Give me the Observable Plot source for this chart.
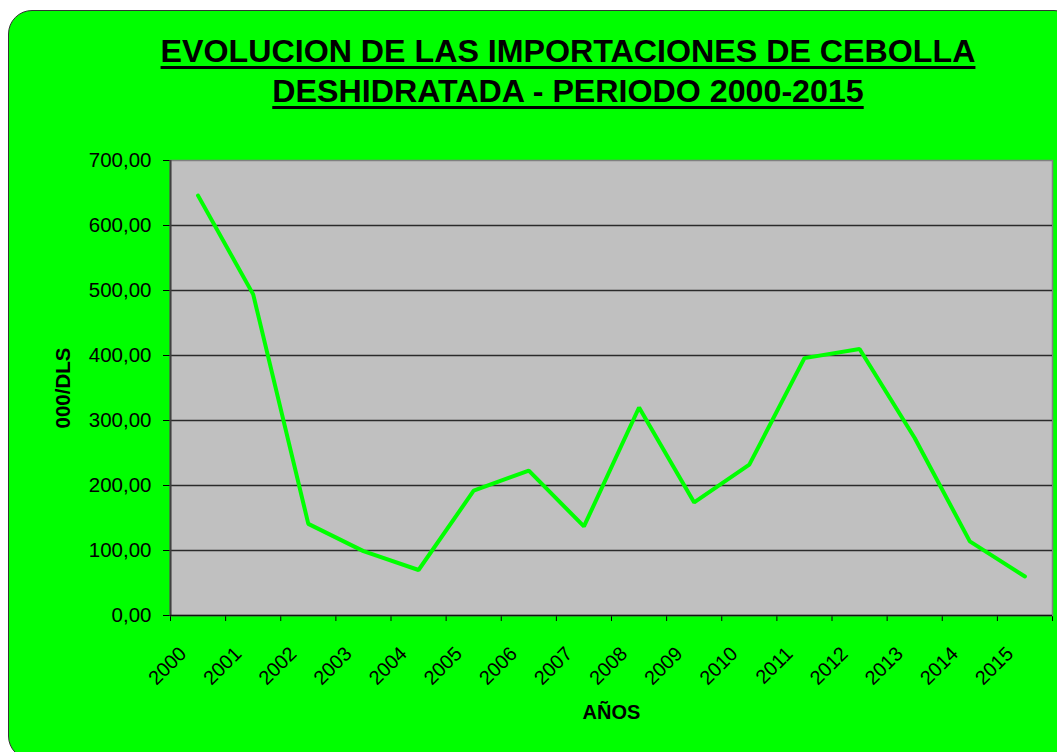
<!DOCTYPE html>
<html>
<head>
<meta charset="utf-8">
<script src="https://cdn.jsdelivr.net/npm/d3@7"></script>
<script src="https://cdn.jsdelivr.net/npm/@observablehq/plot@0.6"></script>
<style>
  html, body { margin: 0; padding: 0; background: #ffffff; width: 1057px; height: 752px; overflow: hidden; }
  #card { position: absolute; left: 8px; top: 10px; width: 1070px; height: 750px; background: #00ff00;
          border: 1.5px solid #333; border-radius: 24px; box-sizing: border-box; }
  #title { position: absolute; left: 0; top: 31px; width: 1136px; text-align: center;
           font-family: "Liberation Sans", Arial, sans-serif; font-weight: bold; font-size: 32.2px; line-height: 40px;
           color: #000; z-index: 2; }
  #title span { text-decoration: underline; text-decoration-thickness: 3px; text-underline-offset: 4px; }
  #chart { position: absolute; left: 0; top: 0; z-index: 1; }
</style>
</head>
<body>
<div id="card"></div>
<div id="title"><span>EVOLUCION DE LAS IMPORTACIONES DE CEBOLLA</span><br><span>DESHIDRATADA - PERIODO 2000-2015</span></div>
<div id="chart"></div>
<script>
const years = ["2000","2001","2002","2003","2004","2005","2006","2007","2008","2009","2010","2011","2012","2013","2014","2015"];
const values = [646, 494, 141, 99, 70, 192, 223, 137, 320, 174, 232, 396, 410, 273, 114, 60];
const yTicks = [0, 100, 200, 300, 400, 500, 600, 700];
const yTitle = "000/DLS";
const xTitle = "AÑOS";

const fmt = d => d.toFixed(2).replace(".", ",");
const bounds = d3.range(0, years.length + 1);
const rows = years.map((y, i) => ({year: y, idx: i + 0.5, value: values[i]}));

const chart = Plot.plot({
  width: 1057,
  height: 752,
  marginLeft: 170,
  marginRight: 5,
  marginTop: 160,
  marginBottom: 137,
  style: {background: "transparent", fontFamily: "'Liberation Sans', Arial, sans-serif", fontSize: "20.5px", color: "#000", overflow: "visible"},
  x: {domain: [0, years.length], ticks: bounds, tickFormat: () => "", tickSize: 6, label: null},
  y: {domain: [0, 700], ticks: yTicks, tickFormat: fmt, tickSize: 7, tickPadding: 12, label: null},
  marks: [
    Plot.frame({fill: "#c0c0c0", stroke: "#808080", strokeWidth: 1.5}),
    Plot.ruleY(yTicks.slice(1, -1), {stroke: "#2a2a2a", strokeWidth: 1.4}),
    Plot.ruleX([0], {stroke: "#404040", strokeWidth: 2}),
    Plot.ruleY([0], {stroke: "#111", strokeWidth: 1.5}),
    Plot.line(rows, {x: "idx", y: "value", stroke: "#00ff00", strokeWidth: 4, strokeLinejoin: "miter"}),
    Plot.text(rows, {x: "idx", y: 0, text: "year", rotate: -45, textAnchor: "end", dx: -15, dy: 35, fontSize: 19.8}),
    Plot.text([yTitle], {frameAnchor: "left", textAnchor: "middle", text: d => d, rotate: -90, dx: -107, fontWeight: "bold", fontSize: 20.5}),
    Plot.text([xTitle], {frameAnchor: "bottom", textAnchor: "middle", text: d => d, dy: 103, fontWeight: "bold", fontSize: 20})
  ]
});
document.getElementById("chart").appendChild(chart);
</script>
</body>
</html>
